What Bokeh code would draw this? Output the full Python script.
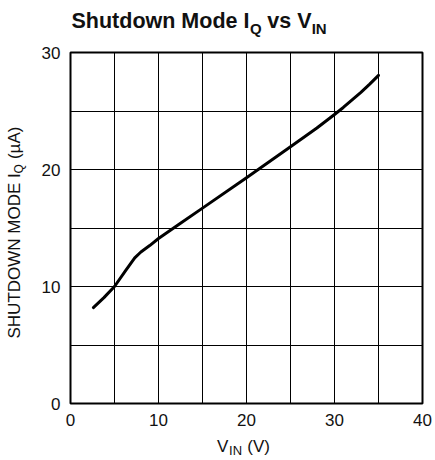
import math
from bokeh.plotting import figure
from bokeh.models import FixedTicker, Label, Range1d
from bokeh.embed import file_html
from bokeh.resources import INLINE

# ---- data ----
vin = [2.6, 3.8, 5.0, 6.3, 7.3, 8.0, 9.0, 10.0, 12.5, 15.0, 20.0, 25.0, 28.0, 30.0, 31.0, 32.0, 33.0, 34.0, 35.0]
iq = [8.2, 9.05, 10.0, 11.4, 12.45, 12.95, 13.5, 14.1, 15.4, 16.7, 19.3, 21.95, 23.55, 24.7, 25.3, 25.95, 26.6, 27.3, 28.05]

x_ticks = [0, 10, 20, 30, 40]
y_ticks = [0, 10, 20, 30]
x_grid = [0, 5, 10, 15, 20, 25, 30, 35, 40]
y_grid = [0, 5, 10, 15, 20, 25, 30]

FONT = "'Liberation Sans', Arial, sans-serif"
TXT = "#111111"
NB = "\u00a0"

p = figure(width=435, height=460, output_backend="svg", toolbar_location=None,
           x_range=Range1d(0, 40), y_range=Range1d(0, 30),
           min_border_left=70, min_border_right=12, min_border_top=52, min_border_bottom=57)
p.background_fill_color = "white"
p.border_fill_color = "white"
p.outline_line_color = "black"
p.outline_line_width = 2

for ax in (p.xaxis[0], p.yaxis[0]):
    ax.axis_line_color = None
    ax.major_tick_line_color = None
    ax.minor_tick_line_color = None
    ax.major_tick_in = 0
    ax.major_tick_out = 0
    ax.minor_tick_in = 0
    ax.minor_tick_out = 0
    ax.major_label_text_font = FONT
    ax.major_label_text_font_size = "17px"
    ax.major_label_text_color = TXT
p.xaxis.ticker = FixedTicker(ticks=x_ticks)
p.yaxis.ticker = FixedTicker(ticks=y_ticks)
p.xaxis.major_label_standoff = 10
p.yaxis.major_label_standoff = 10

p.xgrid.ticker = FixedTicker(ticks=x_grid)
p.ygrid.ticker = FixedTicker(ticks=y_grid)
for g in (p.xgrid[0], p.ygrid[0]):
    g.grid_line_color = "black"
    g.grid_line_alpha = 1.0
    g.grid_line_width = 1

p.line(vin, iq, line_color="black", line_width=3, line_join="round", line_cap="round")

# pixel helpers -> data coordinates (frame: x 70..423 px, y 52..403 px)
def dx(px):
    return (px - 70) / (353 / 40)

def dy(py):
    return (403 - py) / (351 / 30)

SHIFT = 0.36  # observed offset of the drawn baseline, in em

def lab(text, px, base, size, side, bold=False, rotated=False):
    if rotated:
        x, y, ang = dx(base - SHIFT * size), dy(px), math.pi / 2
    else:
        x, y, ang = dx(px), dy(base - SHIFT * size), 0.0
    p.add_layout(Label(x=x, y=y, text=text, text_font=FONT,
                       text_font_size=f"{size}px", text_font_style="bold" if bold else "normal",
                       text_color=TXT, text_align="left", text_baseline="alphabetic",
                       angle=ang), side)

# title: Shutdown Mode I_Q vs V_IN
lab("Shutdown Mode I" + NB * 3 + "vs V", 71, 28.5, 21.5, "above", bold=True)
lab("Q" + NB * 12 + "IN", 250, 33.5, 15, "above", bold=True)

# x axis label: V_IN (V)
lab("V" + NB * 4 + "(V)", 217, 452, 17, "below")
lab("IN", 229, 455, 13, "right")

# y axis label: SHUTDOWN MODE I_Q (µA)  (px = start position along y, base = baseline x)
lab("SHUTDOWN MODE I" + NB * 3 + "(\u00b5A)", 338, 20, 17, "left", rotated=True)
lab("Q", 173, 23, 12, "left", rotated=True)

open("out.html", "w").write(file_html(p, INLINE))
